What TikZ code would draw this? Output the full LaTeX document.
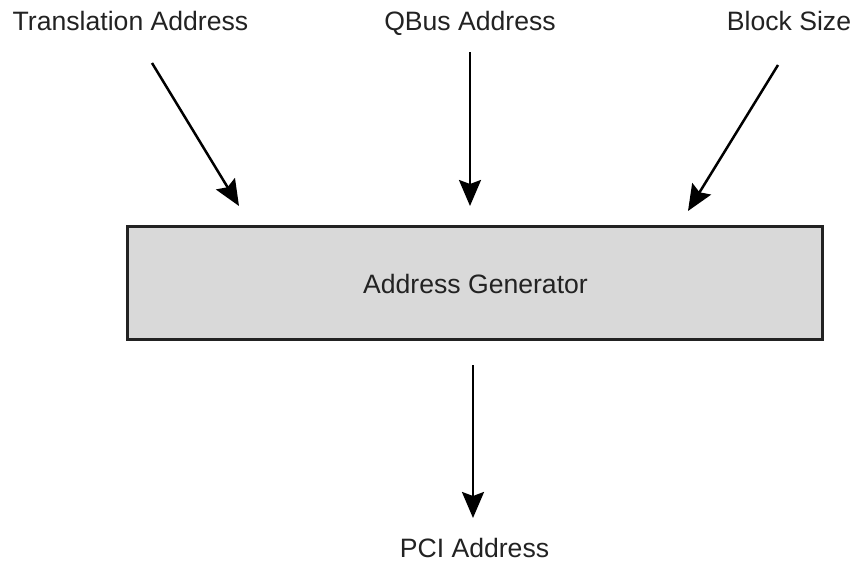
\documentclass[tikz,border=0pt]{standalone}
\usepackage{fontspec}
\setmainfont{Liberation Sans}
\usetikzlibrary{arrows.meta}

\definecolor{boxgray}{HTML}{D9D9D9}
\definecolor{textgray}{HTML}{222222}

\tikzset{
    label text/.style={text=textgray, font=\fontsize{26.6}{30}\selectfont, inner sep=0pt, anchor=base},
    signal/.style={black, line width=2.5pt, -{Stealth[length=26pt, width=22pt, inset=4pt]}},
    genbox/.style={draw=textgray, fill=boxgray, line width=3pt, minimum width=695pt, minimum height=113pt, inner sep=0pt}
}

\begin{document}
\begin{tikzpicture}[x=1pt, y=-1pt]
        \useasboundingbox (0, 0) rectangle (855, 563);
        \node[genbox] (gen) at (474.5, 282.5) {};  % Box
        \node[label text] (gentext) at (475.5, 293) {Address Generator};
        \node[label text] (trans) at (130.5, 30) {Translation Address};  % Inputs
        \node[label text] (qbus) at (470, 30) {QBus Address};
        \node[label text] (block) at (789, 30) {Block Size};
        \node[label text] (pci) at (474.5, 557) {PCI Address};  % Output
        \coordinate (trans start) at (152, 63);
        \coordinate (trans end) at (239, 206);
        \coordinate (qbus start) at (470, 52);
        \coordinate (qbus end) at (470, 206);
        \coordinate (block start) at (778, 65);
        \coordinate (block end) at (688, 211);
        \coordinate (pci start) at (473, 365);
        \coordinate (pci end) at (473, 518);
        \draw[signal] (trans start) -- (trans end);  % Arrows
        \draw[signal] (qbus start) -- (qbus end);
        \draw[signal] (block start) -- (block end);
        \draw[signal] (pci start) -- (pci end);
    \end{tikzpicture}
\end{document}
